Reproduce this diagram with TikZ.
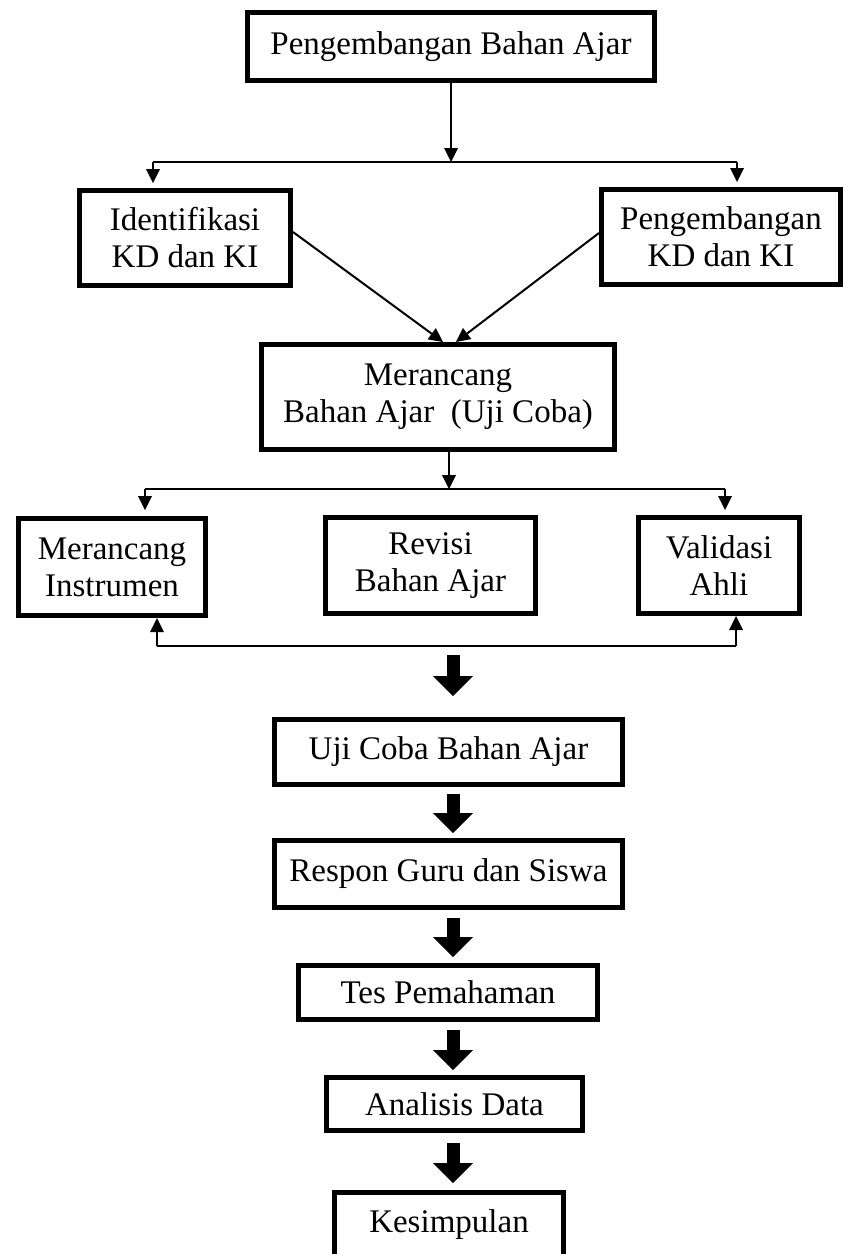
\documentclass[tikz,border=0pt]{standalone}
\usepackage{fontspec}
\setmainfont{Liberation Serif}
\usetikzlibrary{arrows.meta,calc}
\tikzset{
  box/.style={draw, line width=5pt, inner sep=0pt, align=center,
    font=\fontsize{33}{37}\selectfont},
  thinline/.style={line width=2pt},
  thinarrow/.style={line width=2pt, -{Triangle[width=14pt,length=14pt,line width=0pt]}},
  bigarrow/.style={line width=13pt, -{Triangle[width=40pt,length=20pt,line width=0pt]}},
}
\begin{document}
\begin{tikzpicture}[x=1pt,y=-1pt]
\useasboundingbox (0,0) rectangle (843,1254);

% boxes
\node[box, minimum width=407pt, minimum height=68pt] (top) at (451,46.5) {Pengembangan Bahan Ajar};
\node[box, minimum width=211pt, minimum height=95pt] (ident) at (185,238) {Identifikasi\\KD dan KI};
\node[box, minimum width=239pt, minimum height=95pt] (pengkd) at (721,237) {Pengembangan\\KD dan KI};
\node[box, minimum width=353pt, minimum height=105pt] (merba) at (438,397) {Merancang\\Bahan Ajar~ (Uji Coba)};
\node[box, minimum width=187pt, minimum height=97pt] (merins) at (112,567) {Merancang\\Instrumen};
\node[box, minimum width=210pt, minimum height=96pt] (revisi) at (430.5,565.5) {Revisi\\Bahan Ajar};
\node[box, minimum width=161pt, minimum height=96pt] (valid) at (719,565.5) {Validasi\\Ahli};
\node[box, minimum width=348pt, minimum height=65pt] (uji) at (448.5,752) {Uji Coba Bahan Ajar};
\node[box, minimum width=348pt, minimum height=67pt] (respon) at (448.5,874) {Respon Guru dan Siswa};
\node[box, minimum width=299pt, minimum height=54pt] (tes) at (448,992.5) {Tes Pemahaman};
\node[box, minimum width=256pt, minimum height=53pt] (analisis) at (454.5,1104) {Analisis Data};
\node[box, minimum width=229pt, minimum height=65pt] (kes) at (449,1225) {Kesimpulan};

% first split
\coordinate (s1) at (451,162);
\coordinate (s1L) at (153,162);
\coordinate (s1R) at (737,162);
\draw[thinarrow] (top.south) -- (s1);
\draw[thinline] (s1L) -- (s1R);
\draw[thinarrow] (s1L) -- ([yshift=5pt]s1L |- ident.north);
\draw[thinarrow] (s1R) -- ([yshift=5pt]s1R |- pengkd.north);

% diagonals
\draw[thinarrow] ([yshift=6pt]ident.east) -- ([xshift=5pt]merba.north);
\draw[thinarrow] ([yshift=4pt]pengkd.west) -- ([xshift=18pt]merba.north);

% second split
\coordinate (s2) at (449,489);
\coordinate (s2L) at (145,489);
\coordinate (s2R) at (725,489);
\draw[thinarrow] ([xshift=11pt]merba.south) -- (s2);
\draw[thinline] (s2L) -- (s2R);
\draw[thinarrow] (s2L) -- ([yshift=6pt]s2L |- merins.north);
\draw[thinarrow] (s2R) -- ([yshift=5pt]s2R |- valid.north);

% bottom bracket
\coordinate (b1L) at (157,646);
\coordinate (b1R) at (736,646);
\draw[thinline] (b1L) -- (b1R);
\draw[thinarrow] (b1L) -- (b1L |- merins.south);
\draw[thinarrow] (b1R) -- (b1R |- valid.south);

% thick arrows
\coordinate (ax) at (453,0);
\coordinate (a1s) at (453,655);
\draw[bigarrow] (a1s) -- ([yshift=21pt]ax |- uji.north);
\draw[bigarrow, shorten <=7pt, shorten >=5pt] (ax |- uji.south) -- (ax |- respon.north);
\draw[bigarrow, shorten <=8pt, shorten >=6pt] (ax |- respon.south) -- (ax |- tes.north);
\draw[bigarrow, shorten <=8pt, shorten >=5pt] (ax |- tes.south) -- (ax |- analisis.north);
\draw[bigarrow, shorten <=10pt, shorten >=7pt] (ax |- analisis.south) -- (ax |- kes.north);
\end{tikzpicture}
\end{document}
